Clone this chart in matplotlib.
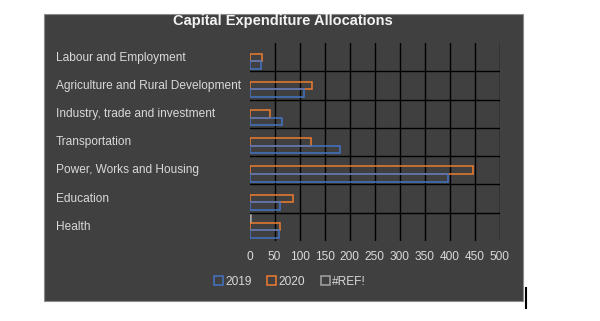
import numpy as np
import matplotlib.pyplot as plt
from matplotlib.patches import Rectangle, Patch
from matplotlib.lines import Line2D

plt.rcParams['font.family'] = ['Liberation Sans', 'DejaVu Sans']

categories = ['Labour and Employment', 'Agriculture and Rural Development',
              'Industry, trade and investment', 'Transportation',
              'Power, Works and Housing', 'Education', 'Health']
values_2019 = [22, 108, 64, 180, 396, 60, 58]
values_2020 = [25, 125, 40, 122, 446, 86, 61]
values_ref = [np.nan, np.nan, np.nan, np.nan, np.nan, np.nan, 3]
series_names = ['2019', '2020', '#REF!']
colors = ['#4472C4', '#ED7D31', '#A5A5A5']

W, H = 600, 321
bg = '#404040'
txt = '#D9D9D9'
fs = 8.6

fig = plt.figure(figsize=(W / 100, H / 100), dpi=100)
fig.patch.set_facecolor('white')

# dark chart panel
fig.patches.append(Rectangle((43.5 / W, 1 - 300.5 / H), 479 / W, 287 / H,
                             transform=fig.transFigure, facecolor=bg,
                             edgecolor='#8C8C8C', linewidth=0.8, zorder=-1))
fig.lines.append(Line2D([526.3 / W, 526.3 / W], [1 - 288 / H, 1 - 308 / H],
                        transform=fig.transFigure, color='black', linewidth=1.5))

ax = fig.add_axes([249.5 / W, 1 - 240.7 / H, 250 / W, 197.4 / H])
ax.set_zorder(2)
ax.set_facecolor(bg)
for s in ax.spines.values():
    s.set_visible(False)

y = np.arange(len(categories))
bh = 0.27
for vals, off, c in [(values_ref, -bh, colors[2]), (values_2020, 0, colors[1]),
                     (values_2019, bh, colors[0])]:
    ax.barh(y + off, vals, height=bh, fill=False, edgecolor=c, linewidth=1.1, zorder=3)

ax.set_xlim(0, 500)
ax.set_ylim(len(categories) - 0.5, -0.5)
ax.set_xticks(np.arange(0, 501, 50))
for xv in range(50, 501, 50):
    ax.axvline(xv, color='black', linewidth=1.0, zorder=1)
for yv in np.arange(0.5, len(categories) - 1, 1):
    ax.axhline(yv, color='black', linewidth=1.0, zorder=1)

ax.set_yticks([])
ax.tick_params(axis='x', length=0, colors=txt, labelsize=fs, pad=7.5)

for i, cat in enumerate(categories):
    fig.text(56 / W, 1 - (57.5 + 28.2 * i) / H, cat, color=txt,
             fontsize=fs, va='center', ha='left')

fig.text(283 / W, 1 - 21.5 / H, 'Capital Expenditure Allocations',
         color='#F2F2F2', fontsize=10.5, fontweight='bold', ha='center', va='center')

handles = [Patch(facecolor='none', edgecolor=c, linewidth=1.1) for c in colors]
fig.legend(handles, series_names, loc='center', bbox_to_anchor=(290 / W, 1 - 282 / H),
           ncol=3, frameon=False, fontsize=fs, labelcolor=txt,
           handlelength=0.75, handleheight=0.75, handletextpad=0.2,
           columnspacing=1.3)

fig.savefig('out.png', dpi=100)
